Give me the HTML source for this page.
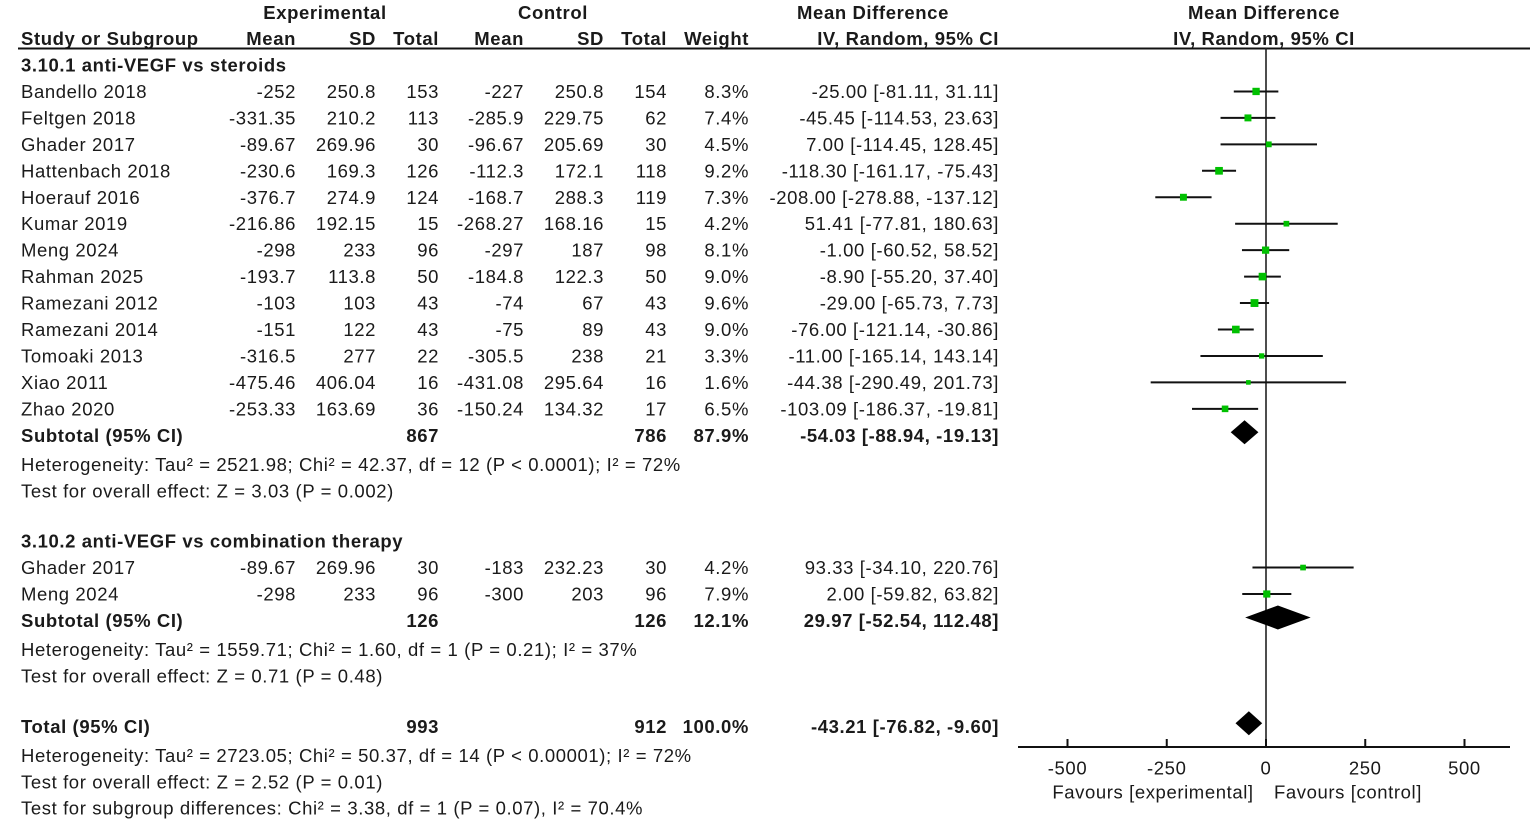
<!DOCTYPE html>
<html><head><meta charset="utf-8"><style>
html,body{margin:0;padding:0;background:#fff;}
svg{display:block;font-family:"Liberation Sans",Arial,sans-serif;}
text{fill:#1a1a1a;font-size:18.5px;letter-spacing:0.6px;}
.b{font-weight:bold;}
</style></head><body>
<svg id="chart" width="1535" height="819" viewBox="0 0 1535 819">
<g id="hdr">
<text x="325" y="19" class="b" text-anchor="middle">Experimental</text>
<text x="553" y="19" class="b" text-anchor="middle">Control</text>
<text x="873" y="19" class="b" text-anchor="middle">Mean Difference</text>
<text x="1264" y="19" class="b" text-anchor="middle">Mean Difference</text>
<text x="21" y="45" class="b">Study or Subgroup</text>
<text x="296" y="45" class="b" text-anchor="end">Mean</text>
<text x="376" y="45" class="b" text-anchor="end">SD</text>
<text x="439" y="45" class="b" text-anchor="end">Total</text>
<text x="524" y="45" class="b" text-anchor="end">Mean</text>
<text x="604" y="45" class="b" text-anchor="end">SD</text>
<text x="667" y="45" class="b" text-anchor="end">Total</text>
<text x="749" y="45" class="b" text-anchor="end">Weight</text>
<text x="999" y="45" class="b" text-anchor="end">IV, Random, 95% CI</text>
<text x="1264" y="45" class="b" text-anchor="middle">IV, Random, 95% CI</text>
<line x1="18" y1="48.5" x2="1530" y2="48.5" stroke="#111" stroke-width="2"/>
</g>
<g id="rows"></g>
<g id="plot"></g>
</svg>
<script>
const studies1 = ["Bandello 2018","Feltgen 2018","Ghader 2017","Hattenbach 2018","Hoerauf 2016","Kumar 2019","Meng 2024","Rahman 2025","Ramezani 2012","Ramezani 2014","Tomoaki 2013","Xiao 2011","Zhao 2020"];
const expMean1 = ["-252","-331.35","-89.67","-230.6","-376.7","-216.86","-298","-193.7","-103","-151","-316.5","-475.46","-253.33"];
const expSD1 = ["250.8","210.2","269.96","169.3","274.9","192.15","233","113.8","103","122","277","406.04","163.69"];
const expN1 = [153,113,30,126,124,15,96,50,43,43,22,16,36];
const ctlMean1 = ["-227","-285.9","-96.67","-112.3","-168.7","-268.27","-297","-184.8","-74","-75","-305.5","-431.08","-150.24"];
const ctlSD1 = ["250.8","229.75","205.69","172.1","288.3","168.16","187","122.3","67","89","238","295.64","134.32"];
const ctlN1 = [154,62,30,118,119,15,98,50,43,43,21,16,17];
const weight1 = [8.3,7.4,4.5,9.2,7.3,4.2,8.1,9.0,9.6,9.0,3.3,1.6,6.5];
const md1 = [-25.00,-45.45,7.00,-118.30,-208.00,51.41,-1.00,-8.90,-29.00,-76.00,-11.00,-44.38,-103.09];
const lo1 = [-81.11,-114.53,-114.45,-161.17,-278.88,-77.81,-60.52,-55.20,-65.73,-121.14,-165.14,-290.49,-186.37];
const hi1 = [31.11,23.63,128.45,-75.43,-137.12,180.63,58.52,37.40,7.73,-30.86,143.14,201.73,-19.81];

const studies2 = ["Ghader 2017","Meng 2024"];
const expMean2 = ["-89.67","-298"];
const expSD2 = ["269.96","233"];
const expN2 = [30,96];
const ctlMean2 = ["-183","-300"];
const ctlSD2 = ["232.23","203"];
const ctlN2 = [30,96];
const weight2 = [4.2,7.9];
const md2 = [93.33,2.00];
const lo2 = [-34.10,-59.82];
const hi2 = [220.76,63.82];

const subtotalMD = [-54.03,29.97];
const subtotalLo = [-88.94,-52.54];
const subtotalHi = [-19.13,112.48];
const subtotalExpN = [867,126];
const subtotalCtlN = [786,126];
const subtotalWeight = ["87.9%","12.1%"];
const totalMD = -43.21, totalLo = -76.82, totalHi = -9.60;
const totalExpN = 993, totalCtlN = 912;
const ticks = [-500,-250,0,250,500];

const NS="http://www.w3.org/2000/svg";
const X0=1266, PX=0.397;
const xs = v => X0 + v*PX;
const rowY = i => 65 + i*26.45;
const rowsG=document.getElementById('rows'), plotG=document.getElementById('plot');
function mk(tag,attrs,parent){const e=document.createElementNS(NS,tag);for(const k in attrs)e.setAttribute(k,attrs[k]);parent.appendChild(e);return e;}
function txt(s,x,y,anchor,bold,parent){const t=mk('text',{x:x,y:y+6.5,'text-anchor':anchor},parent);if(bold)t.setAttribute('class','b');t.textContent=s;return t;}
const fmt = v => v.toFixed(2);
function ci(m,l,h){return fmt(m)+" ["+fmt(l)+", "+fmt(h)+"]";}

function studyRow(i,name,em,es,en,cm,cs,cn,w,m,l,h){
  const y=rowY(i);
  const g=mk('g',{},rowsG);
  
  
  txt(name,21,y,'start',false,g);
  txt(em,296,y,'end',false,g);txt(es,376,y,'end',false,g);txt(String(en),439,y,'end',false,g);
  txt(cm,524,y,'end',false,g);txt(cs,604,y,'end',false,g);txt(String(cn),667,y,'end',false,g);
  txt(w.toFixed(1)+"%",749,y,'end',false,g);
  txt(ci(m,l,h),999,y,'end',false,g);
  const ln=mk('line',{x1:xs(l),x2:xs(h),y1:y,y2:y,stroke:'#111','stroke-width':2},plotG);
  
  
  const s=4+w*0.4;
  const sq=mk('rect',{x:xs(m)-s/2,y:y-s/2,width:s,height:s,fill:'#00c000'},plotG);
  
  
}
function diamond(m,l,h,y){
  const d=mk('polygon',{points:`${xs(l)},${y} ${xs(m)},${y-12} ${xs(h)},${y} ${xs(m)},${y+12}`,fill:'#000'},plotG);
  
  
}
function note(s,i){const t=txt(s,21,rowY(i),'start',false,rowsG);
  
  }
function summary(label,i,en,cn,w,m,l,h){
  const y=rowY(i);
  const g=mk('g',{},rowsG);
  
  
  txt(label,21,y,'start',true,g);txt(String(en),439,y,'end',true,g);txt(String(cn),667,y,'end',true,g);
  txt(w,749,y,'end',true,g);txt(ci(m,l,h),999,y,'end',true,g);
  diamond(m,l,h,y-3);
}
const zl=mk('line',{x1:X0,x2:X0,y1:48,y2:747,stroke:'#222','stroke-width':1.6},plotG);



let h1=txt("3.10.1 anti-VEGF vs steroids",21,rowY(0),'start',true,rowsG);


studies1.forEach((n,k)=>studyRow(k+1,n,expMean1[k],expSD1[k],expN1[k],ctlMean1[k],ctlSD1[k],ctlN1[k],weight1[k],md1[k],lo1[k],hi1[k]));
summary("Subtotal (95% CI)",14,subtotalExpN[0],subtotalCtlN[0],subtotalWeight[0],subtotalMD[0],subtotalLo[0],subtotalHi[0]);
note("Heterogeneity: Tau² = 2521.98; Chi² = 42.37, df = 12 (P < 0.0001); I² = 72%",15.1);
note("Test for overall effect: Z = 3.03 (P = 0.002)",16.1);
let h2=txt("3.10.2 anti-VEGF vs combination therapy",21,rowY(18),'start',true,rowsG);


studies2.forEach((n,k)=>studyRow(k+19,n,expMean2[k],expSD2[k],expN2[k],ctlMean2[k],ctlSD2[k],ctlN2[k],weight2[k],md2[k],lo2[k],hi2[k]));
summary("Subtotal (95% CI)",21,subtotalExpN[1],subtotalCtlN[1],subtotalWeight[1],subtotalMD[1],subtotalLo[1],subtotalHi[1]);
note("Heterogeneity: Tau² = 1559.71; Chi² = 1.60, df = 1 (P = 0.21); I² = 37%",22.1);
note("Test for overall effect: Z = 0.71 (P = 0.48)",23.1);
summary("Total (95% CI)",25,totalExpN,totalCtlN,"100.0%",totalMD,totalLo,totalHi);
note("Heterogeneity: Tau² = 2723.05; Chi² = 50.37, df = 14 (P < 0.00001); I² = 72%",26.1);
note("Test for overall effect: Z = 2.52 (P = 0.01)",27.1);
note("Test for subgroup differences: Chi² = 3.38, df = 1 (P = 0.07), I² = 70.4%",28.1);

const ax=mk('line',{x1:1018,x2:1510,y1:747,y2:747,stroke:'#111','stroke-width':2},plotG);


ticks.forEach(t=>{
  const tk=mk('line',{x1:xs(t),x2:xs(t),y1:739,y2:747,stroke:'#111','stroke-width':2},plotG);
  
  
  const lb=txt(String(t),xs(t),768,'middle',false,plotG);
  
  
});
const f1=txt("Favours [experimental]",1153,792,'middle',false,plotG);


const f2=txt("Favours [control]",1348,792,'middle',false,plotG);


</script>
</body></html>
